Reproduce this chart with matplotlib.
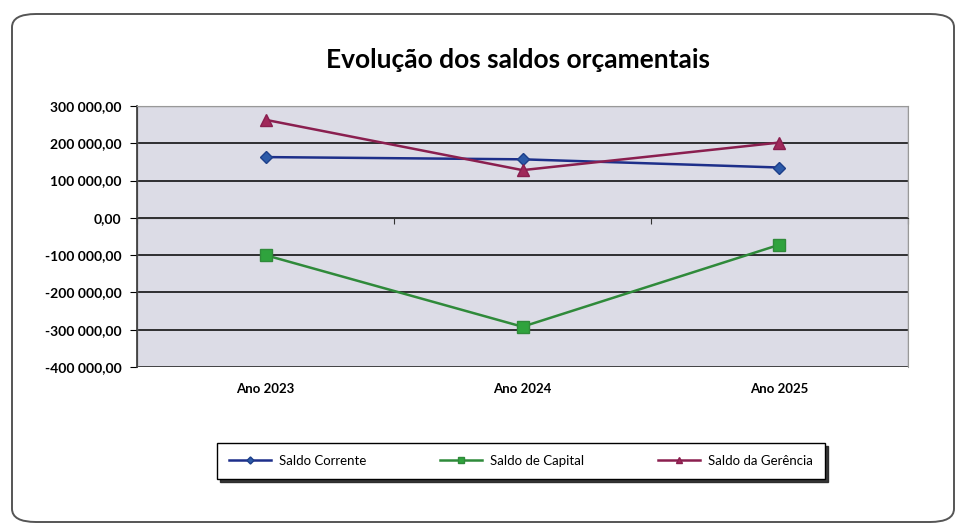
import matplotlib
matplotlib.use('Agg')
import matplotlib.pyplot as plt
from matplotlib.patches import FancyBboxPatch, Rectangle
from matplotlib.ticker import FuncFormatter, MultipleLocator
import matplotlib.transforms as mtransforms

plt.rcParams['font.family'] = ['Lato', 'DejaVu Sans']

# data
anos = ['Ano 2023', 'Ano 2024', 'Ano 2025']
saldo_corrente = [163000, 157000, 135000]
saldo_capital = [-100000, -292000, -72000]
saldo_gerencia = [263000, 128000, 202000]

fig = plt.figure(figsize=(9.62, 5.30), dpi=100)

# rounded outer frame
frame = FancyBboxPatch((12/962, 8/530), 942/962, 508/530,
                       boxstyle='round,pad=0,rounding_size=0.025',
                       transform=fig.transFigure, facecolor='white',
                       edgecolor='#555555', linewidth=1.4, zorder=-1)
fig.patches.append(frame)

ax = fig.add_axes([137/962, 1 - 367/530, 771/962, 261/530])
ax.set_facecolor('#dcdce6')

x = range(len(anos))
ax.plot(x, saldo_corrente, color='#1d2f8a', lw=1.8, marker='D', ms=6,
        mfc='#2c5aa8', mec='#1d3f8a', label='Saldo Corrente', zorder=4)
ax.plot(x, saldo_capital, color='#2f8a3a', lw=1.8, marker='s', ms=8,
        mfc='#2fa33d', mec='#2f8a3a', label='Saldo de Capital', zorder=4)
ax.plot(x, saldo_gerencia, color='#8a1f4f', lw=1.8, marker='^', ms=8,
        mfc='#a0285a', mec='#8a1f4f', label='Saldo da Gerência', zorder=4)

ax.set_xlim(-0.5, 2.5)
ax.set_ylim(-400000, 300000)
ax.yaxis.set_major_locator(MultipleLocator(100000))
ax.yaxis.set_major_formatter(FuncFormatter(
    lambda v, p: f'{v:,.2f}'.replace(',', ' ').replace('.', ',')))
ax.grid(axis='y', color='black', lw=1.1)
ax.set_axisbelow(True)

# category axis crosses at zero, ticks between categories
ax.spines['bottom'].set_position(('data', 0))
ax.spines['bottom'].set_color('#333333')
ax.set_xticks([-0.5, 0.5, 1.5, 2.5])
ax.set_xticklabels([])
ax.tick_params(axis='x', direction='out', length=4, color='#333333')
ax.tick_params(axis='y', direction='out', length=5, labelsize=10, pad=6)
for lab in ax.get_yticklabels():
    lab.set_fontweight('bold')
ax.spines['left'].set_color('#333333')
ax.spines['left'].set_linewidth(1.2)
for s in ['top', 'right']:
    ax.spines[s].set_color('#999999')
ax.add_patch(Rectangle((0, 0), 1, 1, transform=ax.transAxes, fill=False,
                       edgecolor='#999999', lw=1.0, zorder=1))

trans = mtransforms.blended_transform_factory(ax.transData, ax.transAxes)
for i, a in enumerate(anos):
    ax.text(i, -0.085, a, transform=trans, ha='center', va='center',
            fontsize=9.5, fontweight='bold')

fig.text(518/962, 1 - 60/530, 'Evolução dos saldos orçamentais',
         ha='center', va='center', fontsize=19, fontweight='bold')

leg = fig.legend(loc='center', bbox_to_anchor=(521/962, 1 - 461/530), ncol=3,
                 fontsize=9.5, handlelength=3.2, columnspacing=5.6,
                 borderpad=0.9, borderaxespad=0, markerscale=0.6,
                 handletextpad=0.6, frameon=True, fancybox=False,
                 shadow={'color': '#222222', 'alpha': 0.9})
leg.get_frame().set_edgecolor('black')
leg.get_frame().set_linewidth(1.0)
leg.set_zorder(5)

fig.savefig('out.png', dpi=100)
